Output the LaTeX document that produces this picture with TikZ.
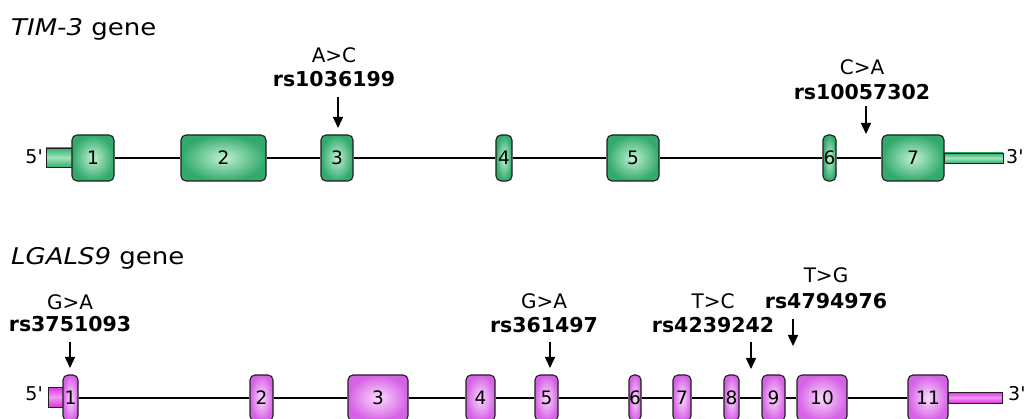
\documentclass[tikz,border=0pt]{standalone}
\usepackage{fontspec}
\setmainfont{DejaVu Sans}
\usetikzlibrary{arrows.meta}

% exon and UTR colours
\definecolor{gin}{RGB}{192,240,210}
\definecolor{gout}{RGB}{50,170,108}
\definecolor{gutrA}{RGB}{55,175,112}
\definecolor{gutrB}{RGB}{160,228,188}
\definecolor{pin}{RGB}{250,218,252}
\definecolor{pout}{RGB}{214,98,230}
\definecolor{putrA}{RGB}{218,52,220}
\definecolor{putrB}{RGB}{242,150,245}
\definecolor{edge}{RGB}{30,30,30}

\newcommand{\pr}{\textquotesingle}

\begin{document}
\begin{tikzpicture}[x=1pt,y=-1pt,
  title/.style={anchor=base west, font=\fontsize{23}{27}\selectfont, xscale=1.13, inner sep=0},
  subst/.style={anchor=base, font=\fontsize{20}{24}\selectfont, inner sep=0},
  rsid/.style={anchor=base, font=\fontsize{20.5}{24}\selectfont\bfseries, inner sep=0},
  endlab/.style={font=\fontsize{19}{22}\selectfont, inner sep=0},
  exon/.style={draw=edge, line width=1.1pt, rounded corners=5pt, minimum height=46pt,
    inner sep=0, font=\fontsize{18.5}{20}\selectfont},
  gexon/.style={exon, shading=radial, inner color=gin, outer color=gout},
  pexon/.style={exon, shading=radial, inner color=pin, outer color=pout},
  gutr/.style={draw=edge, line width=0.8pt, inner sep=0, top color=gutrA, bottom color=gutrA, middle color=gutrB},
  putr/.style={draw=edge, line width=0.8pt, inner sep=0, top color=putrA, bottom color=putrA, middle color=putrB},
  intron/.style={line width=1.3pt},
  pintron/.style={line width=1.7pt},
  snp/.style={line width=1.5pt, -{Triangle[length=11pt,width=10pt]}}
]
\useasboundingbox (0,0) rectangle (1025,419);
\clip (0,0) rectangle (1025,419);
\fill[white] (0,0) rectangle (1025,419);

% ---------------- TIM-3 ----------------
\node[title] (t1) at (11,36) {\itshape TIM-3\upshape{} gene};

\node[gutr, minimum width=26pt, minimum height=19pt] (gu5) at (59,157.5) {};
\node[gutr, minimum width=59pt, minimum height=10pt] (gu3) at (973.5,158) {};

\node[gexon, minimum width=42pt] (g1) at (93,158)    {1};
\node[gexon, minimum width=85pt] (g2) at (223.5,158) {2};
\node[gexon, minimum width=32pt] (g3) at (337,158)   {3};
\node[gexon, minimum width=16pt] (g4) at (504,158)   {4};
\node[gexon, minimum width=52pt] (g5) at (633,158)   {5};
\node[gexon, minimum width=13pt] (g6) at (829.5,158) {6};
\node[gexon, minimum width=62pt] (g7) at (913,158)   {7};

\foreach \a/\b in {g1/g2,g2/g3,g3/g4,g4/g5,g5/g6,g6/g7}
  \draw[intron] (\a.east) -- (\b.west);

\node[endlab, anchor=base east] (g5p) at (43,164) {5\pr};
\node[endlab, anchor=base west] (g3p) at (1006,164) {3\pr};

\node[subst] (s1) at (334,63) {A>C};
\node[rsid]  (r1) at (334,87) {rs1036199};
\coordinate (a1s) at (338,97);
\coordinate (a1e) at (338,128);
\draw[snp] (a1s) -- (a1e);

\node[subst] (s2) at (862,75) {C>A};
\node[rsid]  (r2) at (862,100) {rs10057302};
\coordinate (a2s) at (866,106);
\coordinate (a2e) at (866,134);
\draw[snp] (a2s) -- (a2e);

% ---------------- LGALS9 ----------------
\node[title] (t2) at (11,265) {\itshape LGALS9\upshape{} gene};

\node[putr, minimum width=15pt, minimum height=20pt] (pu5) at (55.5,397) {};
\node[putr, minimum width=54pt, minimum height=11pt] (pu3) at (975,397.5) {};

\node[pexon, minimum width=15pt] (p1)  at (70.5,398)  {1};
\node[pexon, minimum width=23pt] (p2)  at (261.5,398) {2};
\node[pexon, minimum width=60pt] (p3)  at (378,398)   {3};
\node[pexon, minimum width=29pt] (p4)  at (480.5,398) {4};
\node[pexon, minimum width=23pt] (p5)  at (546.5,398) {5};
\node[pexon, minimum width=12pt] (p6)  at (635,398)   {6};
\node[pexon, minimum width=18pt] (p7)  at (682,398)   {7};
\node[pexon, minimum width=15pt] (p8)  at (731.5,398) {8};
\node[pexon, minimum width=23pt] (p9)  at (773.5,398) {9};
\node[pexon, minimum width=50pt] (p10) at (822,398)   {10};
\node[pexon, minimum width=40pt] (p11) at (928,398)   {11};

\foreach \a/\b in {p1/p2,p2/p3,p3/p4,p4/p5,p5/p6,p6/p7,p7/p8,p8/p9,p9/p10,p10/p11}
  \draw[pintron] (\a.east) -- (\b.west);

\node[endlab, anchor=base east] (p5p) at (43,400) {5\pr};
\node[endlab, anchor=base west] (p3p) at (1008,400) {3\pr};

\node[subst] (s3) at (70,310) {G>A};
\node[rsid]  (r3) at (70,332) {rs3751093};
\coordinate (a3s) at (70,342);
\coordinate (a3e) at (70,368);
\draw[snp] (a3s) -- (a3e);

\node[subst] (s4) at (544,309) {G>A};
\node[rsid]  (r4) at (544,333) {rs361497};
\coordinate (a4s) at (550,342);
\coordinate (a4e) at (550,368);
\draw[snp] (a4s) -- (a4e);

\node[subst] (s5) at (713,309) {T>C};
\node[rsid]  (r5) at (713,333) {rs4239242};
\coordinate (a5s) at (751,342);
\coordinate (a5e) at (751,369);
\draw[snp] (a5s) -- (a5e);

\node[subst] (s6) at (826,283) {T>G};
\node[rsid]  (r6) at (826,309) {rs4794976};
\coordinate (a6s) at (793,319);
\coordinate (a6e) at (793,346);
\draw[snp] (a6s) -- (a6e);
\end{tikzpicture}
\end{document}
